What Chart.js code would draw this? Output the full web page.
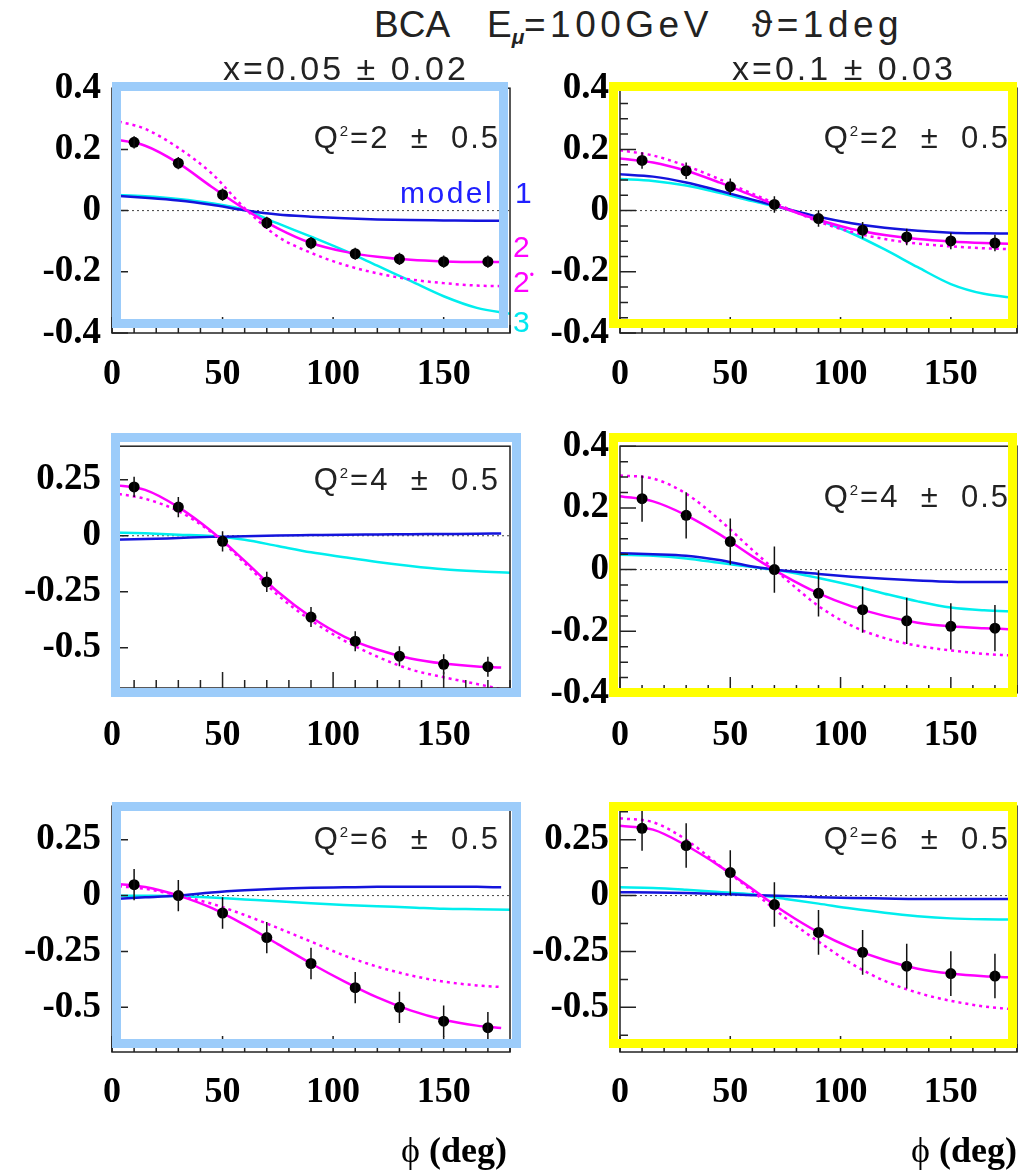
<!DOCTYPE html>
<html>
<head>
<meta charset="utf-8">
<script src="https://cdn.jsdelivr.net/npm/chart.js@4.4.1/dist/chart.umd.min.js"></script>
<style>
body { margin: 0; background: #fff; width: 1024px; height: 1170px; position: relative; overflow: hidden; }
canvas { position: absolute; }
.t { position: absolute; white-space: pre; line-height: 1; font-family: "Liberation Sans", Arial, sans-serif; color: #222; }
.frame { position: absolute; box-sizing: border-box; border: 9px solid; }
</style>
</head>
<body>
<script>
// phi (deg) of the measured points and of the model curves
const phiPts = [10, 30, 50, 70, 90, 110, 130, 150, 170];
const phiCurve = [0, 15, 30, 45, 60, 75, 90, 105, 120, 135, 150, 165, 176];
const phiCyan = [0, 15, 30, 45, 60, 75, 90, 105, 120, 135, 150, 165, 180];

const xTicks = [0, 50, 100, 150];
const yTicksWide = [-0.4, -0.2, 0, 0.2, 0.4];
const yTicksNarrow = [-0.5, -0.25, 0, 0.25];

// x=0.05, Q2=2
const dataTL = [0.223, 0.155, 0.052, -0.040, -0.106, -0.141, -0.158, -0.167, -0.167];
const errTL = [0.02, 0.02, 0.02, 0.02, 0.02, 0.02, 0.02, 0.02, 0.02];
const model1TL = [0.049, 0.042, 0.033, 0.019, 0.001, -0.013, -0.020, -0.025, -0.029, -0.031, -0.032, -0.033, -0.033];
const model2TL = [0.234, 0.212, 0.155, 0.078, 0.005, -0.058, -0.106, -0.134, -0.151, -0.161, -0.166, -0.168, -0.168];
const model2sTL = [0.296, 0.267, 0.205, 0.122, 0.008, -0.085, -0.138, -0.177, -0.205, -0.225, -0.237, -0.245, -0.247];
const model3TL = [0.052, 0.047, 0.038, 0.024, 0.002, -0.042, -0.085, -0.130, -0.180, -0.230, -0.280, -0.318, -0.337];

// x=0.1, Q2=2
const dataTR = [0.164, 0.130, 0.078, 0.020, -0.026, -0.064, -0.086, -0.099, -0.106];
const errTR = [0.027, 0.027, 0.027, 0.027, 0.027, 0.027, 0.027, 0.027, 0.027];
const model1TR = [0.119, 0.111, 0.092, 0.065, 0.036, 0.007, -0.020, -0.041, -0.056, -0.066, -0.072, -0.074, -0.075];
const model2TR = [0.170, 0.157, 0.130, 0.092, 0.049, 0.006, -0.030, -0.060, -0.080, -0.093, -0.101, -0.106, -0.108];
const model2sTR = [0.197, 0.180, 0.146, 0.103, 0.055, 0.010, -0.036, -0.070, -0.093, -0.108, -0.117, -0.123, -0.126];
const model3TR = [0.103, 0.097, 0.082, 0.058, 0.031, 0.006, -0.031, -0.074, -0.127, -0.185, -0.240, -0.272, -0.286];

// x=0.05, Q2=4
const dataML = [0.218, 0.128, -0.025, -0.206, -0.363, -0.471, -0.538, -0.574, -0.585];
const errML = [0.045, 0.045, 0.045, 0.045, 0.045, 0.045, 0.045, 0.045, 0.045];
const model1ML = [-0.018, -0.015, -0.010, -0.005, -0.002, 0.001, 0.003, 0.005, 0.006, 0.007, 0.008, 0.009, 0.010];
const model2ML = [0.228, 0.205, 0.128, 0.020, -0.112, -0.250, -0.363, -0.450, -0.508, -0.548, -0.571, -0.584, -0.588];
const model2sML = [0.191, 0.165, 0.110, 0.015, -0.122, -0.265, -0.378, -0.468, -0.540, -0.597, -0.632, -0.662, -0.685];
const model3ML = [0.015, 0.011, 0.005, -0.001, -0.018, -0.046, -0.074, -0.096, -0.117, -0.135, -0.150, -0.159, -0.165];

// x=0.1, Q2=4
const dataMR = [0.230, 0.176, 0.091, 0.000, -0.077, -0.130, -0.166, -0.184, -0.190];
const errMR = [0.075, 0.075, 0.075, 0.075, 0.075, 0.075, 0.075, 0.075, 0.075];
const model1MR = [0.053, 0.050, 0.045, 0.031, 0.010, -0.004, -0.014, -0.023, -0.030, -0.035, -0.039, -0.040, -0.040];
const model2MR = [0.238, 0.221, 0.176, 0.115, 0.043, -0.022, -0.077, -0.119, -0.150, -0.172, -0.184, -0.190, -0.193];
const model2sMR = [0.305, 0.295, 0.246, 0.162, 0.064, -0.030, -0.118, -0.182, -0.222, -0.247, -0.262, -0.273, -0.278];
const model3MR = [0.048, 0.045, 0.036, 0.022, 0.008, -0.006, -0.027, -0.051, -0.078, -0.103, -0.123, -0.132, -0.136];

// x=0.05, Q2=6
const dataBL = [0.049, 0.000, -0.078, -0.188, -0.304, -0.412, -0.500, -0.562, -0.591];
const errBL = [0.07, 0.07, 0.07, 0.07, 0.07, 0.07, 0.07, 0.07, 0.07];
const model1BL = [-0.015, -0.008, 0.000, 0.014, 0.024, 0.031, 0.035, 0.037, 0.039, 0.040, 0.040, 0.039, 0.037];
const model2BL = [0.054, 0.038, 0.000, -0.055, -0.131, -0.217, -0.304, -0.384, -0.456, -0.514, -0.556, -0.582, -0.593];
const model2sBL = [0.044, 0.030, 0.000, -0.036, -0.087, -0.145, -0.206, -0.268, -0.318, -0.357, -0.385, -0.402, -0.409];
const model3BL = [0.000, -0.001, -0.003, -0.009, -0.017, -0.025, -0.034, -0.042, -0.048, -0.053, -0.059, -0.061, -0.063];

// x=0.1, Q2=6
const dataBR = [0.301, 0.224, 0.103, -0.040, -0.165, -0.254, -0.316, -0.349, -0.360];
const errBR = [0.1, 0.1, 0.1, 0.1, 0.1, 0.1, 0.1, 0.1, 0.1];
const model1BR = [0.015, 0.014, 0.011, 0.007, 0.002, -0.002, -0.007, -0.011, -0.013, -0.015, -0.015, -0.015, -0.015];
const model2BR = [0.312, 0.295, 0.224, 0.133, 0.029, -0.076, -0.165, -0.235, -0.288, -0.327, -0.349, -0.361, -0.365];
const model2sBR = [0.346, 0.328, 0.250, 0.135, 0.020, -0.100, -0.206, -0.305, -0.382, -0.435, -0.471, -0.496, -0.507];
const model3BR = [0.037, 0.034, 0.026, 0.016, 0.006, -0.015, -0.036, -0.058, -0.077, -0.092, -0.102, -0.106, -0.107];

const panels = [
    { pts: dataTL, err: errTL, m1: model1TL, m2: model2TL, m2s: model2sTL, m3: model3TL,
      box: [112, 85, 510, 333], yMin: -0.4, yMax: 0.4, yTicks: yTicksWide, minor: 0.05, major: 0.2, labelY: 375 },
    { pts: dataTR, err: errTR, m1: model1TR, m2: model2TR, m2s: model2sTR, m3: model3TR,
      box: [620, 85, 1017, 333], yMin: -0.4, yMax: 0.4, yTicks: yTicksWide, minor: 0.05, major: 0.2, labelY: 375 },
    { pts: dataML, err: errML, m1: model1ML, m2: model2ML, m2s: model2sML, m3: model3ML,
      box: [112, 443, 510, 688], yMin: -0.68, yMax: 0.4, yTicks: yTicksNarrow, minor: 0.125, major: 0.25, labelY: 736 },
    { pts: dataMR, err: errMR, m1: model1MR, m2: model2MR, m2s: model2sMR, m3: model3MR,
      box: [620, 443, 1017, 693], yMin: -0.4, yMax: 0.4, yTicks: yTicksWide, minor: 0.05, major: 0.2, labelY: 736 },
    { pts: dataBL, err: errBL, m1: model1BL, m2: model2BL, m2s: model2sBL, m3: model3BL,
      box: [112, 803, 510, 1052], yMin: -0.7, yMax: 0.4, yTicks: yTicksNarrow, minor: 0.125, major: 0.25, labelY: 1093 },
    { pts: dataBR, err: errBR, m1: model1BR, m2: model2BR, m2s: model2sBR, m3: model3BR,
      box: [620, 803, 1017, 1052], yMin: -0.7, yMax: 0.4, yTicks: yTicksNarrow, minor: 0.125, major: 0.25, labelY: 1093 }
];

const xy = (xs, ys) => ys.map((y, i) => ({ x: xs[i], y: y }));
const tickFontX = { family: '"Liberation Serif", "Times New Roman", serif', size: 36, weight: 'bold' };
const tickFontY = { family: '"Liberation Serif", "Times New Roman", serif', size: 37, weight: 'bold' };

// ROOT style frame: error bars, axis box and inward tick marks
const rootFrame = {
    id: 'rootFrame',
    afterDatasetsDraw(chart, args, o) {
        const { ctx, chartArea: a } = chart;
        const sx = chart.scales.x, sy = chart.scales.y;
        const ds = chart.data.datasets[0];
        ctx.save();
        ctx.beginPath();
        ctx.rect(a.left, a.top, a.right - a.left, a.bottom - a.top);
        ctx.clip();
        ctx.strokeStyle = '#111';
        ctx.lineWidth = 1.5;
        ds.data.forEach((p, i) => {
            const px = sx.getPixelForValue(p.x);
            ctx.beginPath();
            ctx.moveTo(px, sy.getPixelForValue(p.y - ds.errors[i]));
            ctx.lineTo(px, sy.getPixelForValue(p.y + ds.errors[i]));
            ctx.stroke();
        });
        ctx.restore();

        ctx.save();
        ctx.strokeStyle = '#222';
        ctx.lineWidth = 1.5;
        ctx.strokeRect(a.left, a.top, a.right - a.left, a.bottom - a.top);
        ctx.beginPath();
        for (let v = 0; v <= 180; v += 10) {
            const px = sx.getPixelForValue(v);
            const len = v % 50 === 0 ? 16 : 8;
            ctx.moveTo(px, a.bottom);
            ctx.lineTo(px, a.bottom - len);
        }
        const k0 = Math.ceil(sy.min / o.minor - 1e-6), k1 = Math.floor(sy.max / o.minor + 1e-6);
        for (let k = k0; k <= k1; k++) {
            const v = k * o.minor;
            const r = v / o.major;
            const len = Math.abs(r - Math.round(r)) < 1e-6 ? 16 : 8;
            const py = sy.getPixelForValue(v);
            ctx.moveTo(a.left, py);
            ctx.lineTo(a.left + len, py);
        }
        ctx.stroke();
        ctx.restore();
    }
};

function makePanel(p) {
    const yw = 110, xh = 90, padT = 30, padR = 6;
    const [l, t, r, b] = p.box;
    const cv = document.createElement('canvas');
    const w = yw + (r - l) + padR, h = padT + (b - t) + xh;
    cv.width = w; cv.height = h;
    cv.style.width = w + 'px'; cv.style.height = h + 'px';
    cv.style.left = (l - yw) + 'px'; cv.style.top = (t - padT) + 'px';
    document.body.appendChild(cv);

    const curve = (ys, color, dash, xs) => ({
        data: xy(xs || phiCurve, ys), showLine: true, borderColor: color, borderWidth: 2.5,
        borderDash: dash || [], pointRadius: 0, cubicInterpolationMode: 'monotone', fill: false
    });

    new Chart(cv, {
        type: 'scatter',
        data: {
            datasets: [
                { data: xy(phiPts, p.pts), errors: p.err, backgroundColor: '#000', borderWidth: 0, pointRadius: 5.5 },
                curve(p.m2, '#ff00ff'),
                curve(p.m2s, '#ff00ff', [3, 4]),
                curve(p.m1, '#1414dc'),
                curve(p.m3, '#00eeee', null, phiCyan),
                { data: [{ x: 0, y: 0 }, { x: 180, y: 0 }], showLine: true, borderColor: '#444',
                  borderWidth: 1, borderDash: [2, 3], pointRadius: 0 }
            ]
        },
        options: {
            responsive: false,
            animation: false,
            events: [],
            layout: { padding: { top: padT, right: padR, left: 0, bottom: 0 } },
            scales: {
                x: {
                    type: 'linear', min: 0, max: 180,
                    afterBuildTicks: s => { s.ticks = xTicks.map(v => ({ value: v })); },
                    afterFit: s => { s.height = xh; },
                    grid: { display: false, drawTicks: false },
                    border: { display: false },
                    ticks: { padding: p.labelY - b - 21.6, font: tickFontX, color: '#000', maxRotation: 0, autoSkip: false,
                             callback: v => String(v) }
                },
                y: {
                    type: 'linear', min: p.yMin, max: p.yMax,
                    afterBuildTicks: s => { s.ticks = p.yTicks.map(v => ({ value: v })); },
                    afterFit: s => { s.width = yw; },
                    grid: { display: false, drawTicks: false },
                    border: { display: false },
                    ticks: { padding: 11, font: tickFontY, color: '#000', autoSkip: false,
                             callback: v => String(v) }
                }
            },
            plugins: {
                legend: { display: false },
                tooltip: { enabled: false },
                rootFrame: { minor: p.minor, major: p.major }
            }
        },
        plugins: [rootFrame]
    });
}

panels.forEach(makePanel);

// coloured frames round the panels
const frames = [
    [112, 82, 508, 328, '#9cccfa'], [609, 82, 1017, 328, '#ffff00'],
    [111, 433, 521, 697, '#9cccfa'], [609, 433, 1017, 697, '#ffff00'],
    [112, 802, 521, 1048, '#9cccfa'], [609, 802, 1017, 1048, '#ffff00']
];
frames.forEach(([l, t, r, b, c]) => {
    const d = document.createElement('div');
    d.className = 'frame';
    Object.assign(d.style, { left: l + 'px', top: t + 'px', width: (r - l) + 'px', height: (b - t) + 'px', borderColor: c });
    document.body.appendChild(d);
});

function addText(html, x, base, size, opts) {
    opts = opts || {};
    const d = document.createElement('div');
    d.className = 't';
    d.innerHTML = html;
    d.style.fontSize = size + 'px';
    d.style.top = (base - 0.85 * size) + 'px';
    if (opts.align === 'right') d.style.right = (1024 - x) + 'px';
    else if (opts.align === 'center') { d.style.left = x + 'px'; d.style.transform = 'translateX(-50%)'; }
    else d.style.left = x + 'px';
    if (opts.color) d.style.color = opts.color;
    if (opts.spacing) d.style.letterSpacing = opts.spacing + 'px';
    if (opts.serif) { d.style.fontFamily = '"Liberation Serif", "DejaVu Serif", serif'; d.style.fontWeight = 'bold'; d.style.color = '#000'; }
    document.body.appendChild(d);
}

const sup = (s, size, up) => `<span style="font-size:${size}px;position:relative;top:-${up}px">${s}</span>`;

// title and bin labels
addText('BCA', 374, 37, 37);
addText('E' + `<span style="font-size:21px;position:relative;top:7px;font-style:italic;font-weight:bold">μ</span>`, 487, 37, 37);
addText('=100GeV', 524, 37, 37, { spacing: 4.5 });
addText('ϑ=1deg', 752, 37, 37, { spacing: 4.5 });
addText('x=0.05 ± 0.02', 346, 80, 34, { align: 'center', spacing: 3 });
addText('x=0.1 ± 0.03', 844, 80, 34, { align: 'center', spacing: 3 });

const q2Labels = [['2', 148], ['4', 490], ['6', 849]];
q2Labels.forEach(([q, base], i) => {
    const html = 'Q' + sup('2', 15, 12) + '=' + q + '  ±  0.5';
    addText(html, 500, base, 31, { align: 'right', spacing: 2 });
    addText(html, 1010, i === 1 ? 507 : base, 31, { align: 'right', spacing: 2 });
});

// model labels
addText('model', 400, 203, 30, { color: '#2020ff', spacing: 2.5 });
addText('1', 515, 203, 30, { color: '#2020ff' });
addText('2', 513, 257, 30, { color: '#ff00ff' });
addText('2' + sup('•', 12, 13), 513, 292, 30, { color: '#ff00ff' });
addText('3', 513, 332, 30, { color: '#00e8f0' });

// axis titles
const phiTitle = '<span style="font-weight:normal">ϕ</span> (deg)';
addText(phiTitle, 507, 1163, 36, { align: 'right', serif: true });
addText(phiTitle, 1017, 1163, 36, { align: 'right', serif: true });
</script>
</body>
</html>
